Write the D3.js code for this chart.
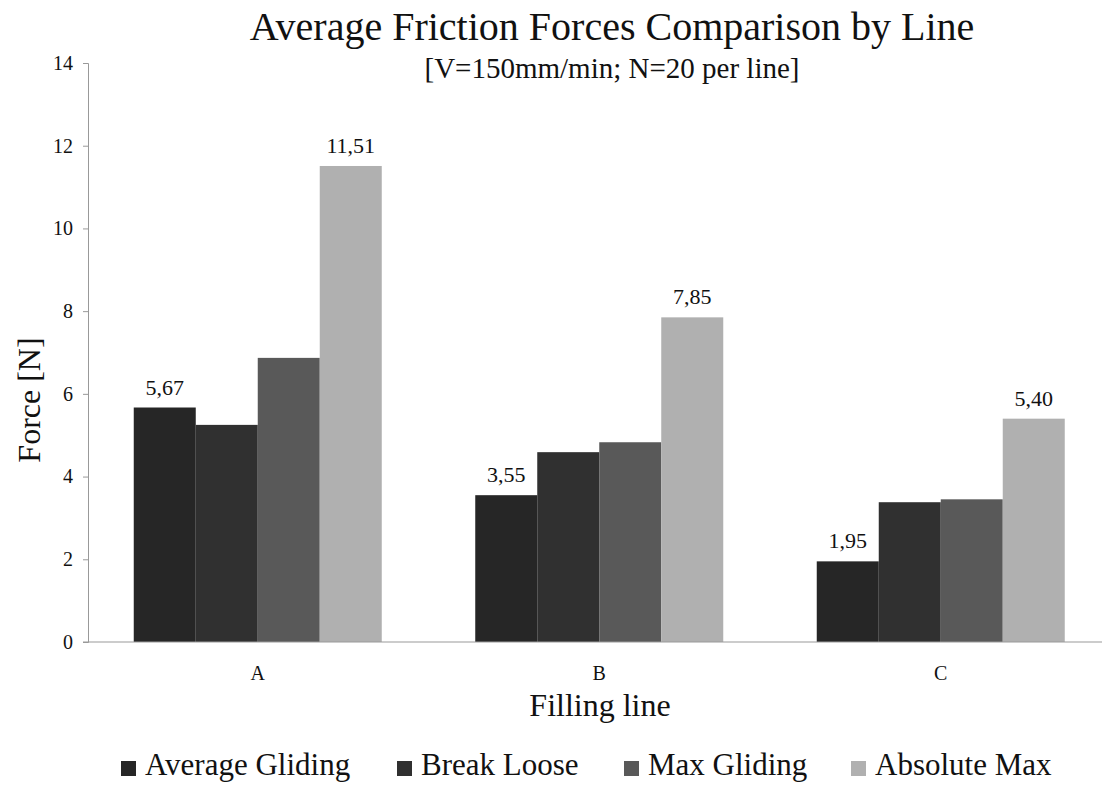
<!DOCTYPE html>
<html>
<head>
<meta charset="utf-8">
<script src="https://cdnjs.cloudflare.com/ajax/libs/d3/7.8.5/d3.min.js"></script>
<style>
  body { margin: 0; background: #fff; }
  svg text { font-family: "Liberation Serif", "Times New Roman", serif; fill: #111; }
</style>
</head>
<body>
<div id="chart"></div>
<script>
const categories = ['A', 'B', 'C'];
const seriesNames = ['Average Gliding', 'Break Loose', 'Max Gliding', 'Absolute Max'];
const averageGliding = [5.67, 3.55, 1.95];
const breakLoose = [5.25, 4.59, 3.38];
const maxGliding = [6.87, 4.83, 3.45];
const absoluteMax = [11.51, 7.85, 5.40];
const yTicks = [0, 2, 4, 6, 8, 10, 12, 14];
// which series get a value label on top
const labelled = ['Average Gliding', 'Absolute Max'];

const colors = ['#262626', '#303030', '#595959', '#b0b0b0'];

const values = [averageGliding, breakLoose, maxGliding, absoluteMax];
const rows = [];
categories.forEach((c, i) => {
  seriesNames.forEach((s, j) => rows.push({cat: c, series: s, value: values[j][i], k: j}));
});

const width = 1102, height = 790;
const svg = d3.select('#chart').append('svg')
  .attr('width', width)
  .attr('height', height);

const x = d3.scaleBand().domain(categories).range([87, 1111.5]);
const xs = d3.scaleBand().domain(seriesNames).range([0, x.bandwidth()]).paddingOuter(0.754);
const y = d3.scaleLinear().domain([0, 14]).range([642, 63]);

// y axis
const yAxis = svg.append('g')
  .attr('transform', 'translate(88,0)')
  .call(d3.axisLeft(y).tickValues(yTicks).tickSize(5).tickPadding(10).tickFormat(d3.format('d')));
yAxis.select('.domain').attr('stroke', '#999');
yAxis.selectAll('.tick line').attr('stroke', '#999');
yAxis.selectAll('.tick text').style('font-size', '20px').attr('fill', '#111');

// bars
svg.append('g').selectAll('rect')
  .data(rows)
  .enter()
  .append('rect')
  .attr('x', d => x(d.cat) + xs(d.series))
  .attr('y', d => y(d.value))
  .attr('width', xs.bandwidth())
  .attr('height', d => y(0) - y(d.value))
  .attr('fill', d => colors[d.k]);

// x axis line
svg.append('line')
  .attr('x1', 83).attr('x2', 1111)
  .attr('y1', y(0)).attr('y2', y(0))
  .attr('stroke', '#999').attr('stroke-width', 1.2);

svg.append('g').selectAll('text')
  .data(categories)
  .enter()
  .append('text')
  .attr('x', d => x(d) + x.bandwidth() / 2)
  .attr('y', 680)
  .attr('text-anchor', 'middle')
  .style('font-size', '20px')
  .text(d => d);

// value labels
const fmt = v => d3.format('.2f')(v).replace('.', ',');
svg.append('g').selectAll('text')
  .data(rows.filter(d => labelled.includes(d.series)))
  .enter()
  .append('text')
  .attr('x', d => x(d.cat) + xs(d.series) + xs.bandwidth() / 2)
  .attr('y', d => y(d.value) - 13)
  .attr('text-anchor', 'middle')
  .style('font-size', '22px')
  .text(d => fmt(d.value));

// titles
svg.append('text')
  .attr('x', 612).attr('y', 40)
  .attr('text-anchor', 'middle')
  .style('font-size', '40px')
  .text('Average Friction Forces Comparison by Line');
svg.append('text')
  .attr('x', 612).attr('y', 78)
  .attr('text-anchor', 'middle')
  .style('font-size', '29px')
  .text('[V=150mm/min; N=20 per line]');

svg.append('text')
  .attr('x', 600).attr('y', 716)
  .attr('text-anchor', 'middle')
  .style('font-size', '32px')
  .text('Filling line');

svg.append('text')
  .attr('transform', 'translate(40,400) rotate(-90)')
  .attr('text-anchor', 'middle')
  .style('font-size', '32px')
  .text('Force [N]');

// legend
const legendX = [121, 397, 624, 851];
const lg = svg.append('g').selectAll('g')
  .data(seriesNames)
  .enter()
  .append('g')
  .attr('transform', (d, i) => `translate(${legendX[i]},775)`);
lg.append('rect')
  .attr('x', 0).attr('y', -14)
  .attr('width', 15).attr('height', 15)
  .attr('fill', (d, i) => colors[i]);
lg.append('text')
  .attr('x', 24).attr('y', 0)
  .style('font-size', '31px')
  .text(d => d);
</script>
</body>
</html>
